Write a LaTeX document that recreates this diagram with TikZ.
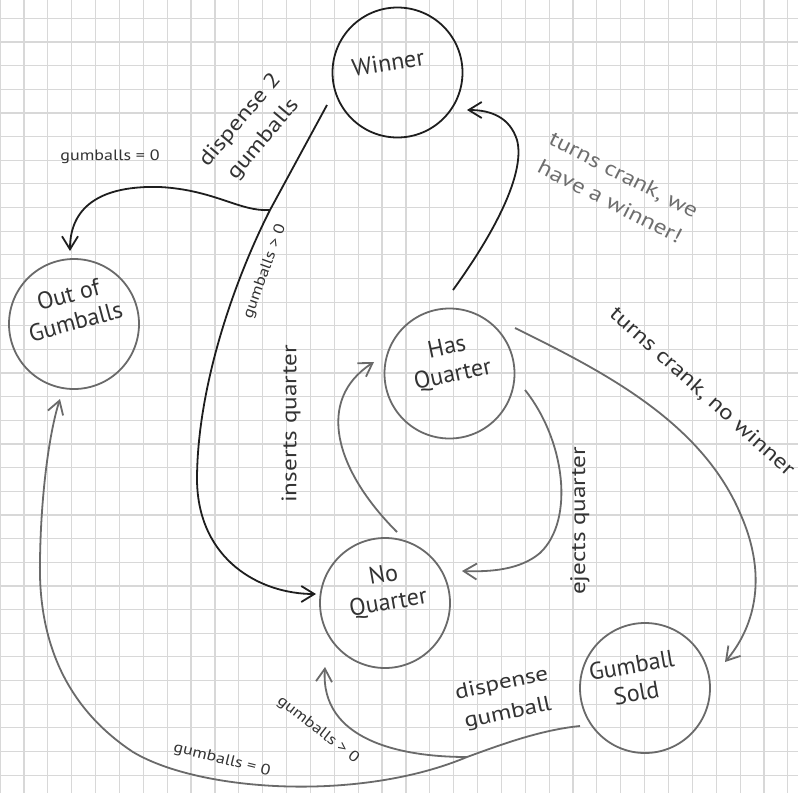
\documentclass[tikz,border=0pt]{standalone}
\usepackage{fontspec}
\setmainfont{PT Sans}
\newfontfamily\handwide[FakeStretch=1.2]{PT Sans}
\usetikzlibrary{arrows.meta,calc}
\definecolor{ink}{HTML}{1E1E1E}
\definecolor{pencil}{HTML}{6A6A6A}
\definecolor{gridc}{HTML}{D8D8D8}
\definecolor{txtd}{HTML}{333333}
\definecolor{txtg}{HTML}{6E6E6E}
\tikzset{
 st/.style={circle, draw, line width=1.8pt, minimum size=130pt, inner sep=0pt},
 stdark/.style={st, draw=ink},
 stgray/.style={st, draw=pencil},
 tipv/.style={-{Straight Barb[length=13pt,width=16pt]}},
 edgedark/.style={draw=ink, line width=1.8pt},
 edgegray/.style={draw=pencil, line width=1.8pt},
 nm/.style={font=\fontsize{24}{28}\selectfont, align=center, text=txtd},
 lab/.style={font=\handwide\fontsize{21}{30}\selectfont, align=center, text=txtd},
 sm/.style={font=\handwide\fontsize{15}{17}\selectfont, text=txtd},
}
\begin{document}
\begin{tikzpicture}[x=1pt,y=-1pt]
\useasboundingbox (0,0) rectangle (798,793);
\fill[white] (0,0) rectangle (798,793);
\foreach \k in {0,...,33} \draw[gridc, line width=1.2pt] ({0.13+23.87*\k},0) -- ++(0,793);
\foreach \k in {0,...,32} \draw[gridc, line width=1.2pt] (0,{18.3+23.65*\k}) -- ++(798,0);

% states
\node[stdark] (win) at (397.5,72.5) {};
\node[stgray] (oog) at (74,324) {};
\node[stgray] (hq) at (449.5,373.5) {};
\node[stgray] (nq) at (385,603) {};
\node[stgray] (gs) at (645,688) {};
\node[nm, rotate=9] (winT) at (388,63) {Winner};
\node[nm, rotate=15] (oogT) at (72,308) {Out of\\Gumballs};
\node[nm, rotate=12] (hqT) at (450,362) {Has\\Quarter};
\node[nm, rotate=10] (nqT) at (386,590) {No\\Quarter};
\node[nm, rotate=10] (gsT) at (634,679) {Gumball\\Sold};

% connector ends
\coordinate (wS) at (327,105);
\coordinate (J) at (270,210);
\coordinate (nqW) at (316,594);
\coordinate (oogN) at (70,251);
\coordinate (hqN) at (453,290);
\coordinate (winE) at (467,110);
\coordinate (hqE) at (515,328);
\coordinate (gsN) at (725,662);
\coordinate (nqN) at (397,532);
\coordinate (hqW) at (374,362);
\coordinate (hqSE) at (525,390);
\coordinate (nqE) at (462,571);
\coordinate (gsW) at (580,726);
\coordinate (K) at (467,757);
\coordinate (nqS) at (325,667);
\coordinate (oogS) at (60,399);

% connectors
\draw[edgedark] (wS) -- (J);
\draw[edgedark, tipv] (J) .. controls (232,285) and (197,390) .. (197,480) .. controls (198,560) and (260,594) .. (nqW);
\draw[edgedark, tipv] (J) .. controls (240,212) and (215,190) .. (160,187) .. controls (90,185) and (70,215) .. (oogN);
\draw[edgedark, tipv] (hqN) .. controls (500,225) and (525,170) .. (517,140) .. controls (510,118) and (492,110) .. (winE);
\draw[edgegray, tipv] (hqE) .. controls (600,370) and (700,420) .. (740,513) .. controls (770,580) and (752,630) .. (gsN);
\draw[edgegray, tipv] (nqN) .. controls (335,470) and (315,400) .. (hqW);
\draw[edgegray, tipv] (hqSE) .. controls (565,440) and (575,520) .. (540,553) .. controls (520,570) and (490,572) .. (nqE);
\draw[edgegray] (gsW) .. controls (540,730) and (500,745) .. (K);
\draw[edgegray, tipv] (K) .. controls (400,757) and (320,740) .. (nqS);
\draw[edgegray, tipv] (K) .. controls (360,802) and (200,792) .. (133,752) .. controls (65,707) and (38,640) .. (40,560) .. controls (41,490) and (50,430) .. (oogS);

% labels
\node[lab, rotate=50] (l1) at (252,130) {dispense 2\\gumballs};
\node[sm] (l2) at (110,157) {gumballs = 0};
\node[sm, rotate=70] (l3) at (265,272) {gumballs > 0};
\node[lab, text=txtg, rotate=-27] (l4) at (617,188) {turns crank, we\\have a winner!};
\node[lab, rotate=-42] (l5) at (702,392) {turns crank, no winner};
\node[lab, rotate=90] (l6) at (291,424) {inserts quarter};
\node[lab, rotate=90] (l7) at (580,521) {ejects quarter};
\node[lab, rotate=12] (l8) at (505,699) {dispense\\gumball};
\node[sm, rotate=-38] (l9) at (318,730) {gumballs > 0};
\node[sm, rotate=-14] (l10) at (222,760) {gumballs = 0};
\end{tikzpicture}
\end{document}
